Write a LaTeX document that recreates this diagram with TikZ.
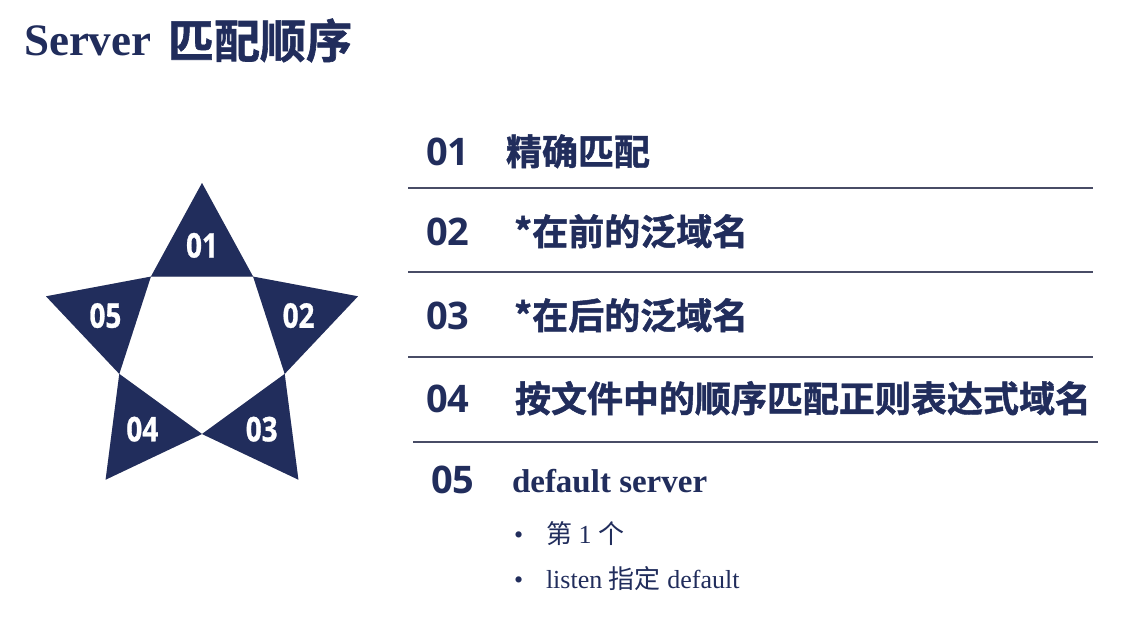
\documentclass[tikz,border=0pt]{standalone}
\usepackage{fontspec}
\setmainfont{Liberation Serif}
\newfontfamily\cjk{Noto Sans CJK SC}
\newfontfamily\cjkh{Noto Sans CJK SC}[UprightFont=* Bold, FakeBold=1.3]
\newfontfamily\osans{Open Sans}
\newfontfamily\osc{Open Sans}[FakeStretch=0.82, BoldFeatures={FakeBold=0.8}]
\definecolor{navy}{RGB}{33,45,92}
\definecolor{rulecol}{RGB}{72,76,102}
\begin{document}
\begin{tikzpicture}[x=1pt,y=-1pt,
  every node/.style={inner sep=0pt, outer sep=0pt, text=navy},
  num/.style={anchor=base west, font=\osans\bfseries\fontsize{38}{40}\selectfont},
  itemtext/.style={anchor=base west, font=\cjkh\fontsize{36}{40}\selectfont},
  sep/.style={draw=rulecol, line width=1.4pt},
  tri/.style={fill=navy},
  trishadow/.style={fill=black, opacity=0.18},
  starlabel/.style={text=white, font=\osc\bfseries\fontsize{34}{36}\selectfont},
  bullettext/.style={anchor=base west, font=\fontsize{26}{28}\selectfont}]
\fill[white] (0,0) rectangle (1145,623);
\useasboundingbox (0,0) rectangle (1145,623);

% title
\node[anchor=base west, font=\bfseries\fontsize{45}{50}\selectfont] (title) at (24,56) {Server};
\node[anchor=base west, font=\cjkh\fontsize{46}{50}\selectfont] (titlecjk) at (168,58) {匹配顺序};

% star coordinates
\coordinate (o1) at (202,183);
\coordinate (o2) at (358,296.3);
\coordinate (o3) at (298.4,479.7);
\coordinate (o4) at (105.6,479.7);
\coordinate (o5) at (46,296.3);
\coordinate (i1) at (253.1,276.6);
\coordinate (i2) at (284.7,373.9);
\coordinate (i3) at (202,434);
\coordinate (i4) at (119.3,373.9);
\coordinate (i5) at (150.9,276.6);

\begin{scope}[shift={(2,3)}]
\fill[trishadow] (o1) -- (i1) -- (i5) -- cycle;
\fill[trishadow] (o2) -- (i2) -- (i1) -- cycle;
\fill[trishadow] (o3) -- (i3) -- (i2) -- cycle;
\fill[trishadow] (o4) -- (i4) -- (i3) -- cycle;
\fill[trishadow] (o5) -- (i5) -- (i4) -- cycle;
\end{scope}
\fill[tri] (o1) -- (i1) -- (i5) -- cycle;
\fill[tri] (o2) -- (i2) -- (i1) -- cycle;
\fill[tri] (o3) -- (i3) -- (i2) -- cycle;
\fill[tri] (o4) -- (i4) -- (i3) -- cycle;
\fill[tri] (o5) -- (i5) -- (i4) -- cycle;

\node[starlabel] (s1) at (barycentric cs:o1=1,i1=1,i5=1) {01};
\node[starlabel] (s2) at (barycentric cs:o2=1,i2=1,i1=1) {02};
\node[starlabel] (s3) at (barycentric cs:o3=1,i3=1,i2=1) {03};
\node[starlabel] (s4) at (barycentric cs:o4=1,i4=1,i3=1) {04};
\node[starlabel] (s5) at (barycentric cs:o5=1,i5=1,i4=1) {05};

% rows
\node[num] (n1) at (426,165) {01};
\node[itemtext] (t1) at (506,165) {精确匹配};
\node[num] (n2) at (426,245) {02};
\node[itemtext] (t2) at (514,245) {*在前的泛域名};
\node[num] (n3) at (426,329) {03};
\node[itemtext] (t3) at (514,329) {*在后的泛域名};
\node[num] (n4) at (426,412) {04};
\node[itemtext] (t4) at (515,412) {按文件中的顺序匹配正则表达式域名};
\node[num] (n5) at (431,493) {05};
\node[anchor=base west, font=\bfseries\fontsize{33}{36}\selectfont] (t5) at (512,492) {default server};

\node[bullettext] (b1) at (514,543) {•};
\node[bullettext] (b1t) at (546,543) {{\cjk 第} 1 {\cjk 个}};
\node[bullettext] (b2) at (514,588) {•};
\node[bullettext] (b2t) at (546,588) {listen {\cjk 指定} default};

% separators
\coordinate (l1a) at (408,188); \coordinate (l1b) at (1093,188);
\coordinate (l2a) at (408,272); \coordinate (l2b) at (1093,272);
\coordinate (l3a) at (408,357); \coordinate (l3b) at (1093,357);
\coordinate (l4a) at (413,442); \coordinate (l4b) at (1098,442);
\draw[sep] (l1a) -- (l1b);
\draw[sep] (l2a) -- (l2b);
\draw[sep] (l3a) -- (l3b);
\draw[sep] (l4a) -- (l4b);
\end{tikzpicture}
\end{document}
